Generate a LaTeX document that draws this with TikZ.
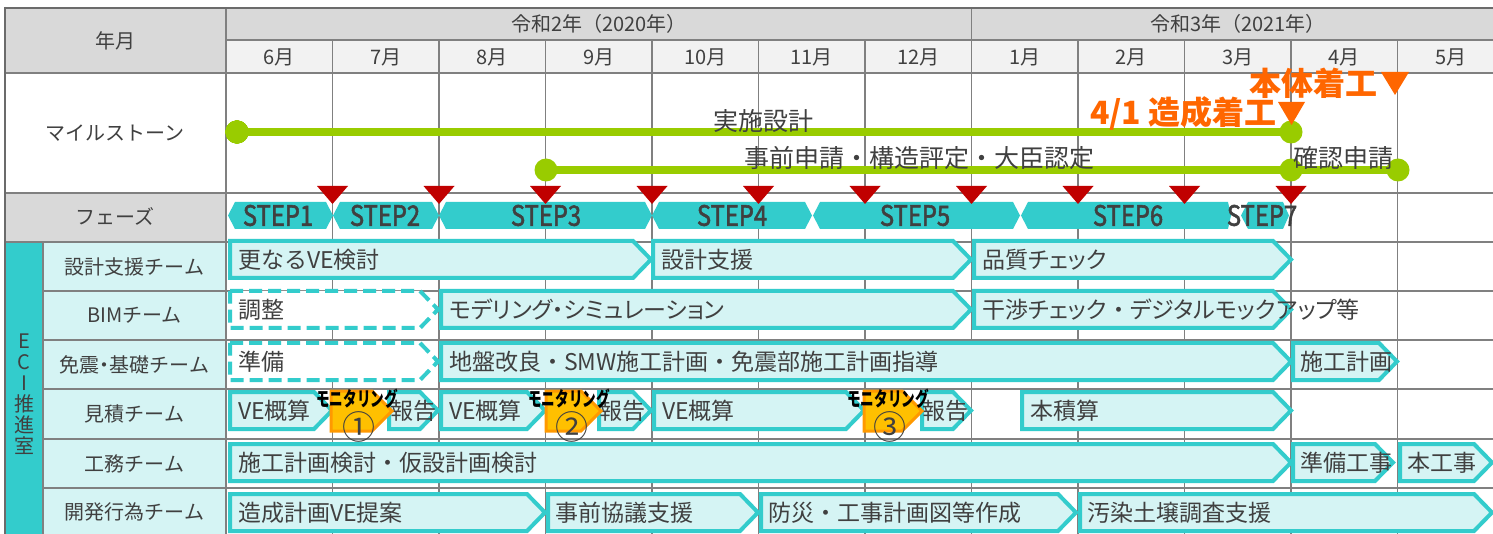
\documentclass[tikz,border=0pt]{standalone}
\usepackage{fontspec}
\setmainfont{Noto Sans CJK JP}
\newfontfamily\kanafont[RawFeature=+palt]{Noto Sans CJK JP}
\newfontfamily\stepfont[FakeBold=2]{Noto Sans CJK JP}
\usepackage{graphicx}
\definecolor{cyanc}{HTML}{33CCCC}
\definecolor{lcyan}{HTML}{D5F4F4}
\definecolor{greyh}{HTML}{D9D9D9}
\definecolor{greym}{HTML}{F2F2F2}
\definecolor{gridc}{HTML}{808080}
\definecolor{framec}{HTML}{6B6B6B}
\definecolor{txt}{HTML}{404040}
\definecolor{greenc}{HTML}{99CC00}
\definecolor{redc}{HTML}{C00000}
\definecolor{orangec}{HTML}{FF6600}
\definecolor{amber}{HTML}{FFC000}
\definecolor{amberd}{HTML}{FF9900}
\tikzset{
  gridline/.style={draw=gridc, line width=1.5pt},
  frameline/.style={draw=framec, line width=2.5pt},
  barbox/.style={draw=cyanc, fill=lcyan, line width=4pt},
  dashbox/.style={draw=cyanc, fill=white, line width=4pt, dash pattern=on 13pt off 6pt},
  monbox/.style={draw=amberd, fill=amber, line width=3pt},
  bartext/.style={anchor=west, inner sep=0pt, text=txt, font=\fontsize{23}{23}\selectfont},
  hdr/.style={inner sep=0pt, text=txt, font=\fontsize{20}{20}\selectfont},
  mslabel/.style={inner sep=0pt, text=txt, font=\fontsize{25}{25}\selectfont},
  otext/.style={inner sep=0pt, anchor=east, text=orangec, font=\fontsize{32}{32}\selectfont\bfseries},
  steptext/.style={inner sep=0pt, text=txt, font=\fontsize{28}{28}\selectfont\stepfont},
  montext/.style={inner sep=0pt, text=black, font=\fontsize{20}{20}\selectfont\bfseries},
  numtext/.style={inner sep=0pt, text=txt, font=\fontsize{33}{33}\selectfont},
  mdot/.style={circle, fill=greenc, minimum size=23pt, inner sep=0pt},
  mline/.style={draw=greenc, line width=8pt},
}
\newcommand\gbar[7][barbox]{%
  \draw[#1] ({#3+2},#5) -- ({#4-19},#5) -- ({#4-1},{#5+18.5}) -- ({#4-19},{#5+37}) -- ({#3+2},{#5+37}) -- cycle;
  \node[bartext] (#2) at (#6,{#5+18.5}) {#7};}
\newcommand\stephex[3]{%
  \fill[cyanc] (#1,215.5) -- ({#1+7},202) -- ({#2-#3},202) -- (#2,215.5) -- ({#2-#3},229) -- ({#1+7},229) -- cycle;}
\newcommand\redtri[1]{\fill[redc] ({#1-15.5},186) -- ({#1+15.5},186) -- (#1,204) -- cycle;}
\newcommand\monshape[2]{%
  \draw[monbox] (#1,391) -- ({#2-20},391) -- (#2,411) -- ({#2-20},431) -- (#1,431) -- cycle;}
\begin{document}
\begin{tikzpicture}[x=1pt,y=-1pt]
\useasboundingbox (0,0) rectangle (1493,534);
\fill[white] (0,0) rectangle (1493,534);
% fills
\fill[greyh] (5,8) rectangle (226,73);
\fill[greyh] (226,8) rectangle (1493,40);
\fill[greym] (226,40) rectangle (1493,73);
\fill[greyh] (5,193) rectangle (226,242);
\fill[cyanc] (5,242) rectangle (43,534);
\fill[lcyan] (43,242) rectangle (226,534);
% grid
\foreach \i in {1,...,11} \draw[gridline] ({226+106.5*\i},40) -- ({226+106.5*\i},534);
\draw[gridline] (971.5,8) -- (971.5,40);
\draw[gridline] (226,8) -- (226,534);
\draw[gridline] (43,242) -- (43,534);
\draw[gridline] (226,40) -- (1493,40);
\foreach \yy in {73,193,242} \draw[gridline] (5,\yy) -- (1493,\yy);
\foreach \yy in {291,340,389,439,488} \draw[gridline] (43,\yy) -- (1493,\yy);
\draw[frameline] (4,8) -- (1493,8);
\draw[frameline] (5,7) -- (5,534);
% header text
\node[hdr] (ym) at (115,41) {年月};
\node[hdr] (y2020) at (599,24) {令和2年（2020年）};
\node[hdr] (y2021) at (1238,24) {令和3年（2021年）};
\foreach \m [count=\i from 0] in {6,7,8,9,10,11,12,1,2,3,4,5}
  \node[hdr] (mo\i) at ({226+106.5*\i+53.25},57) {\m 月};
\node[hdr] (ms) at (115,133) {マイルストーン};
\node[hdr] (ph) at (115,216) {フェーズ};
\node[hdr, align=center, font=\fontsize{20}{21}\selectfont] (eci) at (24,394) {E\\C\\I\\推\\進\\室};
\node[hdr] (t1) at (134.5,267) {設計支援チーム};
\node[hdr] (t2) at (134.5,315.5) {BIMチーム};
\node[hdr] (t3) at (134.5,364.5) {免震{\kanafont ・}基礎チーム};
\node[hdr] (t4) at (134.5,414) {見積チーム};
\node[hdr] (t5) at (134.5,463.5) {工務チーム};
\node[hdr] (t6) at (134.5,512) {開発行為チーム};
% phases
\stephex{228}{333}{7}
\stephex{333}{439}{7}
\stephex{439}{652}{7}
\stephex{652}{812}{7}
\stephex{813}{1020}{7}
\stephex{1021}{1231}{3}
\stephex{1241}{1289}{6}
\node[steptext] (s1) at (278,215.5) {\scalebox{0.85}[1]{STEP1}};
\node[steptext] (s2) at (385,215.5) {\scalebox{0.85}[1]{STEP2}};
\node[steptext] (s3) at (546,215.5) {\scalebox{0.85}[1]{STEP3}};
\node[steptext] (s4) at (732,215.5) {\scalebox{0.85}[1]{STEP4}};
\node[steptext] (s5) at (915,215.5) {\scalebox{0.85}[1]{STEP5}};
\node[steptext] (s6) at (1128,215.5) {\scalebox{0.85}[1]{STEP6}};
\node[steptext] (s7) at (1262,215.5) {\scalebox{0.85}[1]{STEP7}};
\foreach \i in {1,...,10} \redtri{226+106.5*\i}
% milestones
\node[mdot] (a1) at (237,132) {};
\node[mdot] (a2) at (1291,132) {};
\node[mdot] (b1) at (546,170) {};
\node[mdot] (b2) at (1291,170) {};
\node[mdot] (b3) at (1398,170) {};
\draw[mline] (a1.center) -- (a2.center);
\draw[mline] (b1.center) -- (b2.center) -- (b3.center);
\node[mslabel] (l1) at (763,121) {実施設計};
\node[mslabel] (l2) at (919,158) {事前申請・構造評定・大臣認定};
\node[mslabel] (l3) at (1343,158) {確認申請};
\node[otext] (o1) at (1277,113) {4/1 造成着工};
\fill[orangec] (1278,102) -- (1305,102) -- (1291.5,125) -- cycle;
\node[otext] (o2) at (1378,83) {本体着工};
\fill[orangec] (1381,72) -- (1409,72) -- (1395,95) -- cycle;
% row 1
\gbar{r1a}{228}{652}{241}{238}{更なるVE検討}
\gbar{r1b}{651}{972}{241}{661}{設計支援}
\gbar{r1c}{972}{1292}{241}{982}{\kanafont 品質チェック}
% row 2
\gbar[dashbox]{r2a}{228}{439}{291}{238}{調整}
\gbar{r2b}{439}{972}{291}{449}{\kanafont モデリング・シミュレーション}
\gbar{r2c}{972}{1292}{291}{982}{\kanafont 干渉チェック\hspace{6pt}・\hspace{6pt}デジタルモックアップ等}
% row 3
\gbar[dashbox]{r3a}{228}{439}{343}{238}{準備}
\gbar{r3b}{439}{1292}{343}{449}{地盤改良・SMW施工計画・免震部施工計画指導}
\gbar{r3c}{1291}{1398}{343}{1300}{施工計画}
% row 4
\gbar{r4a}{228}{333}{392}{238}{VE概算}
\gbar{r4b}{387}{439}{392}{390}{報告}
\gbar{r4c}{439}{546}{392}{449}{VE概算}
\gbar{r4d}{597}{652}{392}{599}{報告}
\gbar{r4e}{652}{865}{392}{662}{VE概算}
\gbar{r4f}{920}{972}{392}{922}{報告}
\gbar{r4g}{1020}{1292}{392}{1030}{本積算}
\monshape{331}{392}
\monshape{546}{601}
\monshape{864}{922}
\node[montext] (mt1) at (357,399) {\scalebox{0.68}[1]{モニタリング}};
\node[numtext] (mn1) at (359,427) {①};
\node[montext] (mt2) at (569,399) {\scalebox{0.68}[1]{モニタリング}};
\node[numtext] (mn2) at (572,427) {②};
\node[montext] (mt3) at (888,399) {\scalebox{0.68}[1]{モニタリング}};
\node[numtext] (mn3) at (890,427) {③};
% row 5
\gbar{r5a}{228}{1292}{444}{238}{施工計画検討・仮設計画検討}
\gbar{r5b}{1291}{1394}{444}{1300}{準備工事}
\gbar{r5c}{1398}{1493}{444}{1407}{本工事}
% row 6
\gbar{r6a}{228}{546}{494}{238}{造成計画VE提案}
\gbar{r6b}{546}{759}{494}{555}{事前協議支援}
\gbar{r6c}{759}{1077}{494}{768}{防災・工事計画図等作成}
\gbar{r6d}{1078}{1493}{494}{1087}{汚染土壌調査支援}
\end{tikzpicture}
\end{document}
